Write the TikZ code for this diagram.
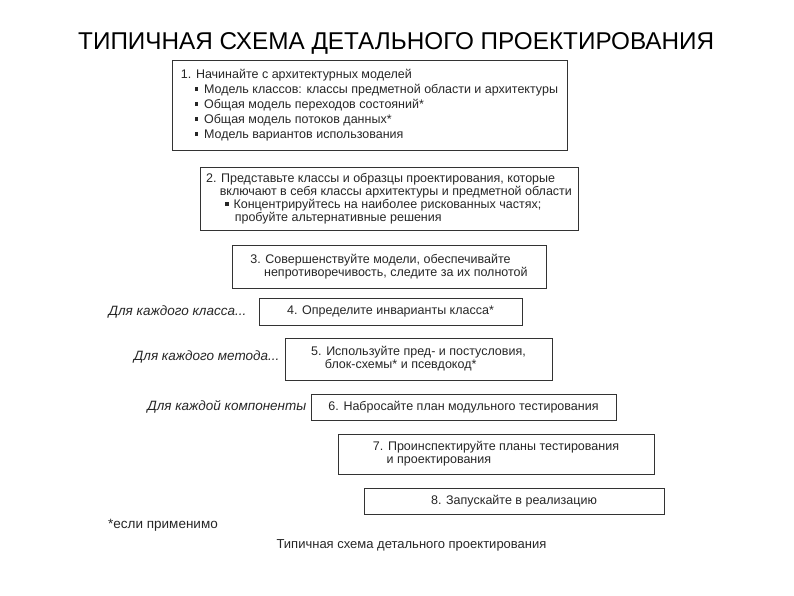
\documentclass[tikz,border=0pt]{standalone}
\usepackage{fontspec}
\setmainfont{Liberation Sans}
\usetikzlibrary{positioning}

\newcommand{\sqbul}{\rule[0.18em]{0.3em}{0.3em}}

\begin{document}
\begin{tikzpicture}[x=1pt, y=-1pt,
    every node/.style={font=\fontsize{12.5}{13}\selectfont, text=black!85},
    stepbox/.style={draw=black!80, line width=0.9pt, inner sep=0pt, align=left},
    sidelabel/.style={font=\fontsize{13.5}{14}\selectfont\itshape, inner sep=0pt}]
    \useasboundingbox (0,0) rectangle (794,595);

    % Title
    \node[font=\fontsize{24.3}{28}\selectfont, anchor=west, inner sep=0pt, text=black] (title) at (78,43) {ТИПИЧНАЯ СХЕМА ДЕТАЛЬНОГО ПРОЕКТИРОВАНИЯ};

    % Steps 1-3 - architecture level
    \node[stepbox, minimum width=395, minimum height=90, font=\fontsize{12.5}{15}\selectfont] (s1) at (369.5,105) {%
        1. Начинайте с архитектурных моделей\\
        \hspace*{1.1em}\sqbul\hspace{0.45em}Модель классов: классы предметной области и архитектуры\\
        \hspace*{1.1em}\sqbul\hspace{0.45em}Общая модель переходов состояний*\\
        \hspace*{1.1em}\sqbul\hspace{0.45em}Общая модель потоков данных*\\
        \hspace*{1.1em}\sqbul\hspace{0.45em}Модель вариантов использования};
    \node[stepbox, minimum width=378, minimum height=63] (s2) at (389,198.5) {%
        2. Представьте классы и образцы проектирования, которые\\
        \hspace*{1.1em}включают в себя классы архитектуры и предметной области\\
        \hspace*{1.5em}\sqbul\hspace{0.4em}Концентрируйтесь на наиболее рискованных частях;\\
        \hspace*{2.3em}пробуйте альтернативные решения};
    \node[stepbox, minimum width=314, minimum height=43] (s3) at (389,266.5) {%
        3. Совершенствуйте модели, обеспечивайте\\
        \hspace*{1.1em}непротиворечивость, следите за их полнотой};

    % Steps 4-6 - per class, method, component
    \node[stepbox, minimum width=263, minimum height=27] (s4) at (390.5,311.5) {4. Определите инварианты класса*};
    \node[stepbox, minimum width=267, minimum height=42] (s5) at (418.5,359) {%
        5. Используйте пред- и постусловия,\\
        \hspace*{1.1em}блок-схемы* и псевдокод*};
    \node[stepbox, minimum width=305, minimum height=26] (s6) at (463.5,407) {6. Набросайте план модульного тестирования};
    \node[sidelabel, left=12pt of s4] (l4) {Для каждого класса...};
    \node[sidelabel, left=5pt of s5, yshift=2pt] (l5) {Для каждого метода...};
    \node[sidelabel, left=4pt of s6] (l6) {Для каждой компоненты};

    % Steps 7-8
    \node[stepbox, minimum width=316, minimum height=40] (s7) at (496,454) {%
        7. Проинспектируйте планы тестирования\\
        \hspace*{1.1em}и проектирования};
    \node[stepbox, minimum width=300, minimum height=26] (s8) at (514,501) {8. Запускайте в реализацию};

    % Footnote and caption
    \node[anchor=west, inner sep=0pt, font=\fontsize{13.5}{14}\selectfont] (note) at (108,525) {*если применимо};
    \node[inner sep=0pt, font=\fontsize{13}{14}\selectfont] (caption) at (411.5,545) {Типичная схема детального проектирования};
\end{tikzpicture}
\end{document}
